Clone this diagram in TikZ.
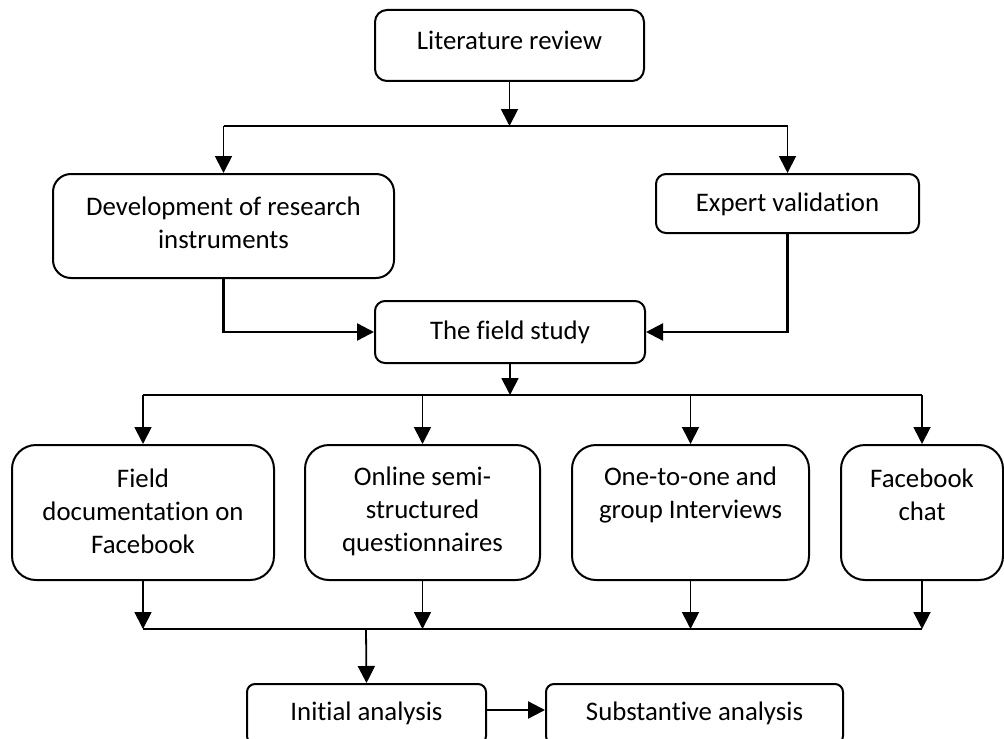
\documentclass[tikz,border=0pt]{standalone}
\usepackage{fontspec}
\setmainfont{Carlito}[Ligatures=NoCommon]
\usetikzlibrary{arrows.meta}

\def\px{0.5pt}

\begin{document}
\begin{tikzpicture}[x=0.5pt, y=-0.5pt,
    stage/.style={draw, line width=1pt, inner sep=0pt},
    stagetext/.style={font=\fontsize{13.4}{16.5}\selectfont, align=center, inner sep=0pt},
    conn/.style={line width=0.9pt},
    arr/.style={conn, -{Triangle[length=8.5pt,width=8.5pt]}}]

  \useasboundingbox (0,0) rectangle (1004,738);

  % boxes
  \node[stage, minimum width=269*\px, minimum height=71*\px, rounded corners=6pt] (lit) at (509.5,45.5) {};
  \node[stage, minimum width=341*\px, minimum height=104*\px, rounded corners=9pt] (dev) at (223.5,226) {};
  \node[stage, minimum width=263*\px, minimum height=59*\px, rounded corners=5pt] (exp) at (787.5,203.5) {};
  \node[stage, minimum width=270*\px, minimum height=62*\px, rounded corners=5pt] (field) at (510,332) {};
  \node[stage, minimum width=262*\px, minimum height=135*\px, rounded corners=12pt] (fb1) at (143,512.5) {};
  \node[stage, minimum width=235*\px, minimum height=135*\px, rounded corners=12pt] (fb2) at (422.5,512.5) {};
  \node[stage, minimum width=237*\px, minimum height=135*\px, rounded corners=12pt] (fb3) at (690.5,512.5) {};
  \node[stage, minimum width=162*\px, minimum height=135*\px, rounded corners=12pt] (fb4) at (922,512.5) {};
  \node[stage, minimum width=239*\px, minimum height=60*\px, rounded corners=4pt] (ini) at (366.5,714) {};
  \node[stage, minimum width=297*\px, minimum height=60*\px, rounded corners=4pt] (sub) at (694.5,714) {};

  % texts
  \node[stagetext] (litT) at (509.5,40) {Literature review};
  \node[stagetext] (devT) at (223.5,223) {Development of research\\instruments};
  \node[stagetext] (expT) at (787.5,204) {Expert validation};
  \node[stagetext] (fieldT) at (510,332) {The field study};
  \node[stagetext] (fb1T) at (143,511) {Field\\documentation on\\Facebook};
  \node[stagetext] (fb2T) at (422.5,511) {Online semi-\\structured\\questionnaires};
  \node[stagetext] (fb3T) at (690.5,495) {One-to-one and\\group Interviews};
  \node[stagetext] (fb4T) at (922,495) {Facebook\\chat};
  \node[stagetext] (iniT) at (366.5,713) {Initial analysis};
  \node[stagetext] (subT) at (694.5,713) {Substantive analysis};

  % junctions
  \coordinate (top) at (509.5,126);
  \coordinate (mid) at (510,395);
  \coordinate (bot) at (366,629);

  % connectors
  \draw[arr] (lit.south) -- (top);
  \draw[line width=0.7pt] (dev.north |- top) -- (exp.north |- top);
  \foreach \b in {dev,exp}
    \draw[arr] (\b.north |- top) -- (\b.north);
  \draw[arr, line width=1.2pt] (dev.south) |- (field.west);
  \draw[arr, line width=1.2pt] (exp.south) |- (field.east);
  \draw[arr] (field.south) -- (mid);
  \draw[conn] (fb1.north |- mid) -- (fb4.north |- mid);
  \foreach \b in {fb1,fb2,fb3,fb4}
  {
    \draw[arr] (\b.north |- mid) -- (\b.north);
    \draw[arr] (\b.south) -- (\b.south |- bot);
  }
  \draw[conn] (fb1.south |- bot) -- (fb4.south |- bot);
  \draw[arr] (bot) -- (ini.north);
  \draw[arr, line width=1.2pt] ([yshift=2pt]ini.east) -- ([yshift=2pt]sub.west);
\end{tikzpicture}
\end{document}
